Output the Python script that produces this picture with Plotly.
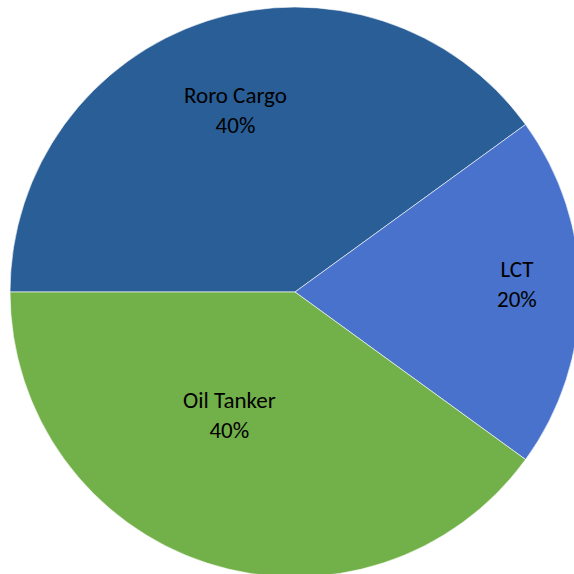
import math
import plotly.graph_objects as go

labels = ["Roro Cargo", "LCT", "Oil Tanker"]
values = [40, 20, 40]
colors = ["#2a5e96", "#4872cb", "#72b04a"]

# label placement style (fraction of radius, angular nudge in degrees)
label_r = [0.67, 0.78, 0.49]
label_nudge = [0, 2, -10]

fig = go.Figure(go.Pie(
    labels=labels,
    values=values,
    sort=False,
    direction="clockwise",
    rotation=-90,
    marker=dict(colors=colors, line=dict(color="rgba(255,255,255,0.6)", width=1)),
    textinfo="none",
    hoverinfo="label+percent",
    showlegend=False,
))

total = sum(values)
start = 180.0
annotations = []
for lab, v, rf, nd in zip(labels, values, label_r, label_nudge):
    sweep = 360.0 * v / total
    mid = start - sweep / 2 + nd
    start -= sweep
    x = 0.5 + 0.5 * rf * math.cos(math.radians(mid))
    y = 0.5 + 0.5 * rf * math.sin(math.radians(mid))
    annotations.append(dict(
        x=x, y=y, xref="paper", yref="paper",
        text=f"{lab}<br>{round(100 * v / total)}%",
        showarrow=False, xanchor="center", yanchor="middle",
        font=dict(family="Carlito, Calibri, Lato, sans-serif", size=23, color="black"),
    ))

fig.update_layout(
    width=580, height=577,
    margin=dict(l=10, r=0, t=7, b=0),
    paper_bgcolor="white",
    showlegend=False,
    annotations=annotations,
)

fig.write_html(
    "out.html",
    config={"displayModeBar": False},
    post_script="document.body.style.margin='0';document.body.style.overflow='hidden';",
)
